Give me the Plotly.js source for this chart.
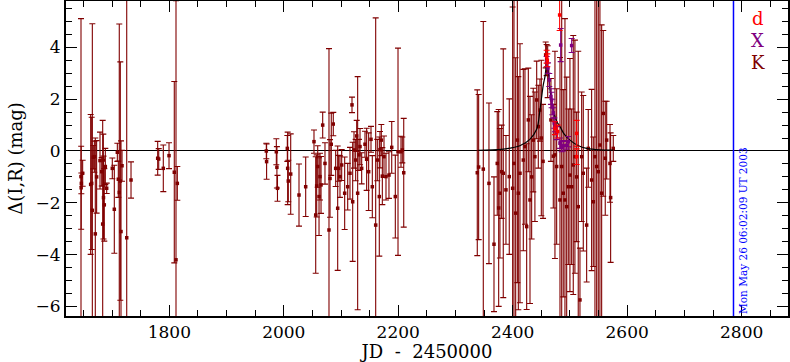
<!DOCTYPE html>
<html>
<head>
<meta charset="utf-8">
<script src="https://cdn.plot.ly/plotly-3.0.1.min.js"></script>
<style>html,body{margin:0;padding:0;background:#fff;}#chart{width:790px;height:362px;}</style>
</head>
<body>
<div id="chart"></div>
<script>
// K-band (maroon) points: JD-2450000, delta mag, error
const kJD = [1645.7,1646.0,1646.3,1648.6,1662.6,1664.4,1665.5,1667.2,1669.0,1670.7,1673.0,1678.9,1681.9,1683.6,1684.7,1685.0,1686.4,1688.2,1690.6,1700.4,1703.9,1709.2,1710.9,1712.6,1714.4,1715.6,1717.4,1725.6,1733.1,1779.7,1781.5,1789.5,1799.5,1808.7,1811.7,1814.0,
 1969.5,1970.0,1987.0,1988.0,1989.0,2006.2,2006.8,2007.9,2012.1,2026.6,2038.3,2052.8,2055.8,2057.5,2059.3,2061.6,2063.3,2065.1,2068.0,2072.0,2079.0,2080.8,2083.0,2086.5,2090.7,2094.2,2095.9,2098.2,2101.2,2106.4,2111.7,2115.7,2119.2,2120.4,2122.7,2125.6,2127.4,2129.1,2131.4,2133.2,2136.1,2141.9,2144.8,2148.3,2152.4,2154.7,2160.6,2163.4,2166.9,2168.1,2170.4,2172.2,2175.1,2178.6,2183.8,2188.6,2194.9,2199.6,2204.8,2207.1,2209.6,
 2338.1,2340.5,2348.6,2358.5,2367.3,2373.0,2375.5,2377.7,2380.7,2383.5,2388.2,2394.0,2399.9,2402.2,2405.2,2408.1,2409.8,2412.7,2418.5,2421.4,2424.4,2427.3,2430.2,2433.1,2435.9,2438.8,2441.9,2444.7,2447.6,2450.0,2453.0,2457.6,2459.3,2461.1,2466.8,2470.9,2473.8,2476.8,2482.6,2485.6,2488.3,2491.3,2494.3,2497.1,2500.0,2503.0,2505.8,2508.7,2511.7,2514.5,2517.5,2520.5,2523.3,2529.2,2532.0,2537.9,2540.8,2543.7,2546.7,2549.5,2552.4,2555.4,2558.2,2561.7,2564.2,2570.0,2571.1,2575.7];
const kMag = [-0.99,-1.42,-1.25,-0.86,-1.29,-1.25,-2.29,-0.24,-0.22,-3.20,-1.00,-0.37,-0.80,-2.82,-0.35,-1.80,-2.08,-0.60,-1.44,-0.67,-2.25,-0.05,-1.09,-1.60,-1.16,-3.11,-0.57,-3.35,-1.12,-0.28,-0.31,-0.67,-0.18,-0.82,-4.20,-1.25,
 0.00,-0.41,-0.03,-0.63,-1.44,0.10,-0.67,-1.16,-0.89,-1.70,-1.38,0.36,-2.47,-1.35,-0.60,-1.76,-0.99,-1.31,1.00,-0.48,-3.05,-1.06,0.26,1.04,-0.67,-2.21,-0.67,-0.99,-0.54,-1.63,-1.38,-0.86,1.78,-1.96,0.04,-0.35,0.58,-1.63,-0.15,0.17,-0.67,0.26,-0.32,-0.80,0.45,-1.38,-2.86,-0.35,-1.76,0.05,0.42,-0.97,-0.22,-0.99,-0.93,0.14,-1.76,-0.03,-0.03,0.04,-0.84,
 -0.84,-0.62,-0.70,-1.25,-3.60,-0.48,-2.20,-1.63,-0.80,-0.86,-1.50,-0.99,-1.44,-0.48,-2.40,0.42,-1.63,-0.86,-0.35,0.17,-2.92,1.20,-1.89,-1.00,0.42,-0.22,1.97,0.94,1.58,0.50,-0.40,3.71,3.51,3.06,1.20,-0.20,-0.15,-0.60,-1.89,-0.60,-1.63,-1.89,-2.15,-1.38,-0.93,-1.38,-0.54,-0.22,-1.00,-2.15,-5.75,-0.22,-0.86,-2.86,0.10,-1.12,-1.96,-0.22,-0.60,-0.80,0.23,-1.63,1.45,-0.28,0.42,-0.48,-1.80,0.10];
const kErr = [6.1,1.6,0.4,0.5,2.7,2.55,7.2,0.45,0.6,3.7,1.4,1.1,0.55,4.0,1.0,1.6,1.4,0.7,0.2,0.4,1.7,0.35,0.7,6.5,4.6,3.5,0.6,10,0.7,0.65,0.4,0.9,0.5,3.5,10,0.65,
 0.3,0.68,0.5,0.8,0.5,0.5,1.4,0.8,1.55,1.2,1.15,0.45,2.25,1.2,0.8,1.5,0.9,1.1,0.5,0.8,7,1.5,1.2,0.45,0.7,2.4,0.5,0.8,0.6,1.4,0.9,1.0,0.3,2.3,0.7,0.8,0.6,4.5,0.6,0.7,0.6,0.5,1.2,1.5,0.5,1.2,8,0.8,2.3,0.7,0.6,1.1,0.8,0.9,0.9,1.0,1.6,4.0,0.6,0.5,2.1,
 3.2,2.8,5.7,3.1,2.6,2.0,3.8,2.5,1.8,4.8,2.1,3.0,7.0,6.5,6.0,5.5,4.5,5.0,3.5,3.0,3.2,2.0,4.0,2.4,2.0,2.5,1.5,1.6,1.2,3.0,2.2,0.5,0.6,1.0,1.6,2.0,4.0,3.0,5.5,6.5,4.0,7.0,5.0,3.0,4.5,3.0,5.0,4.5,2.5,6.0,2.0,2.5,3.0,2.2,1.5,3.5,2.5,9.0,9.0,8.0,7.0,6.5,3.2,2.2,1.5,1.5,2.5,0.5];

// X-band (purple) points
const xJD  = [2459.3,2461.7,2463.9,2466.8,2468.0,2469.2,2471.0,2472.6,2473.8,2476.8,2482.6,2483.8,2485.5,2488.3,2494.3,2497.0,2503.0];
const xMag = [3.45,3.20,2.74,2.10,1.97,1.70,1.47,1.08,0.94,0.69,0.30,4.09,0.17,0.20,0.22,0.36,4.07];
const xErr = [0.2,0.2,0.25,0.3,0.3,0.3,0.2,0.2,0.2,0.25,0.2,0.64,0.2,0.2,0.15,0.2,0.27];

// d-band (red) points
const dJD  = [2459.3,2460.5,2473.8,2478.5,2482.0,2511.7,2511.7];
const dMag = [3.64,3.50,0.88,0.75,5.25,0.68,-0.22];
const dErr = [0.25,0.25,0.25,0.25,0.6,0.5,0.3];

// model light curve (black)
const modelJD  = [2340,2380,2400,2412.5,2430,2442,2447.6,2453.4,2456.4,2459.3,2462.2,2465.1,2470.9,2476.8,2482.6,2490,2500,2515,2529.2,2552.4,2576];
const modelMag = [0.02,0.06,0.13,0.20,0.45,0.85,1.58,2.55,2.87,3.32,3.06,2.36,1.58,1.15,0.94,0.65,0.42,0.20,0.10,0.04,0.03];

const runDateJD = 2785.75;
const runDateText = "Mon May 26 06:02:09 UT 2003";
const legendLabels = ["d","X","K"];
const legendColors = ["#ff0000","#800080","#800000"];
const xRange = [1619.5, 2881];
const yRange = [-6.37, 5.79];

function ptTrace(x, y, e, color) {
  return {
    x: x, y: y, type: 'scatter', mode: 'markers',
    marker: {symbol: 'square', size: 3.5, color: color},
    error_y: {type: 'data', array: e, visible: true, color: color, thickness: 1.1, width: 3},
    showlegend: false, hoverinfo: 'skip'
  };
}

const traces = [
  ptTrace(kJD, kMag, kErr, legendColors[2]),
  {x: modelJD, y: modelMag, type: 'scatter', mode: 'lines', line: {color: '#000', width: 1.2, shape: 'spline'}, showlegend: false},
  ptTrace(xJD, xMag, xErr, legendColors[1]),
  ptTrace(dJD, dMag, dErr, legendColors[0])
];

const font = {family: 'DejaVu Serif, serif', size: 17, color: '#000'};
const axisCommon = {
  showgrid: false, showline: true, linecolor: '#000', linewidth: 2,
  mirror: 'allticks', ticks: 'inside', ticklen: 11, tickwidth: 1, tickcolor: '#000',
  tickfont: font
};

const ann = legendLabels.map((t, i) => ({
  text: t, xref: 'paper', yref: 'paper', x: 0.958, y: 0.946 - i * 0.07,
  xanchor: 'center', yanchor: 'middle', showarrow: false,
  font: {family: 'DejaVu Serif, serif', size: 18, color: legendColors[i]}
}));
ann.push({
  text: runDateText, xref: 'x', yref: 'paper', x: runDateJD, y: 0,
  xanchor: 'left', yanchor: 'bottom', xshift: 1, textangle: -90, showarrow: false,
  font: {family: 'DejaVu Serif, serif', size: 10.5, color: '#0000ff'}
});

const layout = {
  width: 790, height: 362,
  margin: {l: 66, r: 2, t: 1, b: 46},
  paper_bgcolor: '#fff', plot_bgcolor: '#fff',
  font: font,
  xaxis: Object.assign({}, axisCommon, {
    range: xRange, dtick: 200, tick0: 0, zeroline: false,
    minor: {dtick: 50, tick0: 0, ticks: 'inside', ticklen: 6, tickcolor: '#000', tickwidth: 1},
    title: {text: 'JD  -  2450000', font: {family: 'DejaVu Serif, serif', size: 18}, standoff: 4}
  }),
  yaxis: Object.assign({}, axisCommon, {
    range: yRange, dtick: 2, tick0: 0,
    zeroline: true, zerolinecolor: '#000', zerolinewidth: 1,
    minor: {dtick: 0.5, tick0: 0, ticks: 'inside', ticklen: 6, tickcolor: '#000', tickwidth: 1},
    title: {text: 'Δ(I,R) (mag)', font: {family: 'DejaVu Serif, serif', size: 18}, standoff: 8}
  }),
  shapes: [{type: 'line', xref: 'x', yref: 'paper', x0: runDateJD, x1: runDateJD, y0: 0, y1: 1, layer: 'above', line: {color: '#0000ff', width: 1.5}}],
  annotations: ann
};

Plotly.newPlot('chart', traces, layout, {staticPlot: true});
</script>
</body>
</html>
